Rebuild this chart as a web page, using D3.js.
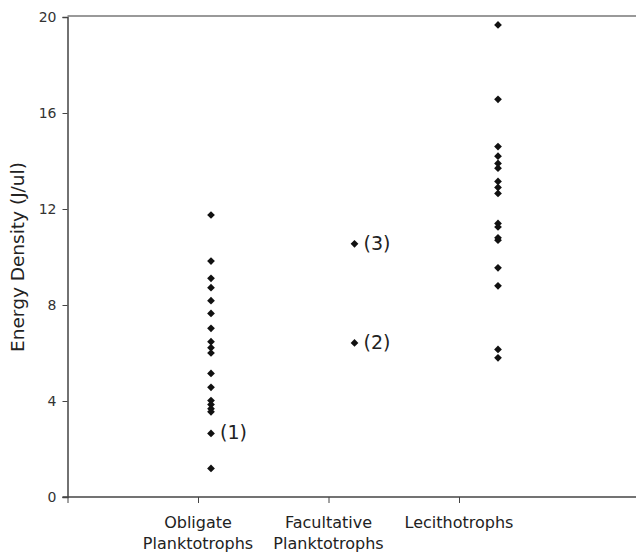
<!DOCTYPE html>
<html>
<head>
<meta charset="utf-8">
<script src="https://cdn.jsdelivr.net/npm/d3@7"></script>
<style>
  body { margin: 0; background: #fff; }
  text { font-family: "DejaVu Sans", Verdana, sans-serif; fill: #222; }
</style>
</head>
<body>
<div id="chart-div"></div>
<script>
var categories = [["Obligate", "Planktotrophs"], ["Facultative", "Planktotrophs"], ["Lecithotrophs"]];
var obligate = [11.75, 9.83, 9.11, 8.72, 8.18, 7.65, 7.03, 6.47, 6.22, 6.0, 5.15, 4.57, 4.02, 3.85, 3.68, 3.55, 2.65, 1.19];
var facultative = [10.55, 6.42];
var lecithotrophs = [19.67, 16.57, 14.6, 14.2, 13.9, 13.7, 13.15, 12.9, 12.65, 11.4, 11.25, 10.8, 10.7, 9.55, 8.8, 6.15, 5.8];
var yTicks = [0, 4, 8, 12, 16, 20];
var notes = [{cat: 1, value: 2.65, label: "(1)"}, {cat: 2, value: 6.42, label: "(2)"}, {cat: 2, value: 10.55, label: "(3)"}];

var props = {width: 636, height: 553, left: 67.5, top: 17, bottom: 497, right: 636};

var svg = d3.select("#chart-div").append("svg").attr("width", props.width).attr("height", props.height);

var yScale = d3.scaleLinear().domain([0, 20]).range([props.bottom, props.top]);
var xScale = d3.scaleLinear().domain([0, (props.right - props.left) / 143.5]).range([props.left, props.right]);
// category ticks / labels sit on their own spacing, like the original text boxes
var catScale = d3.scaleLinear().domain([0, 3]).range([props.left, 459]);

// top frame line
svg.append("line")
  .attr("x1", props.left).attr("x2", props.right)
  .attr("y1", props.top - 1).attr("y2", props.top - 1)
  .style("stroke", "#999").style("stroke-width", 2);

// y axis
var yAxis = svg.append("g").attr("transform", "translate(" + props.left + ",0)")
  .call(d3.axisLeft(yScale).tickValues(yTicks).tickSize(5).tickPadding(6));
yAxis.select(".domain").style("stroke", "#444").style("stroke-width", 1.5);
yAxis.selectAll(".tick line").style("stroke", "#444");
yAxis.selectAll(".tick text").style("font-size", "14px").style("fill", "#333");

// x axis
var xAxis = svg.append("g").attr("transform", "translate(0," + props.bottom + ")")
  .call(d3.axisBottom(catScale).tickValues([0, 1, 2, 3]).tickFormat("").tickSize(6).tickSizeOuter(0));
xAxis.select(".domain").remove();
xAxis.selectAll(".tick line").style("stroke", "#444");
svg.append("line")
  .attr("x1", props.left - 5).attr("x2", props.right)
  .attr("y1", props.bottom).attr("y2", props.bottom)
  .style("stroke", "#444").style("stroke-width", 1.5);

categories.forEach(function(lines, i){
  var t = svg.append("text")
    .attr("text-anchor", "middle")
    .attr("x", catScale(i + 1))
    .attr("y", 528)
    .style("font-size", "16px");
  lines.forEach(function(l, j){
    t.append("tspan").attr("x", catScale(i + 1)).attr("dy", j == 0 ? 0 : 21).text(l);
  });
});

svg.append("text")
  .attr("text-anchor", "middle")
  .attr("transform", "translate(24," + (props.top + props.bottom) / 2 + ") rotate(-90)")
  .style("font-size", "18.5px")
  .text("Energy Density (J/ul)");

// points
var points = [];
[obligate, facultative, lecithotrophs].forEach(function(vals, i){
  vals.forEach(function(v){ points.push({cat: i + 1, value: v}); });
});

var diamond = d3.symbol().type(d3.symbolSquare).size(30);
svg.selectAll(".pt")
  .data(points)
  .enter()
  .append("path")
  .attr("class", "pt")
  .attr("d", diamond)
  .attr("transform", function(d){ return "translate(" + xScale(d.cat) + "," + yScale(d.value) + ") rotate(45)"; })
  .style("fill", "#111");

svg.selectAll(".note")
  .data(notes)
  .enter()
  .append("text")
  .attr("class", "note")
  .attr("x", function(d){ return xScale(d.cat) + 9; })
  .attr("y", function(d){ return yScale(d.value) + 6; })
  .style("font-size", "19px")
  .text(function(d){ return d.label; });
</script>
</body>
</html>
